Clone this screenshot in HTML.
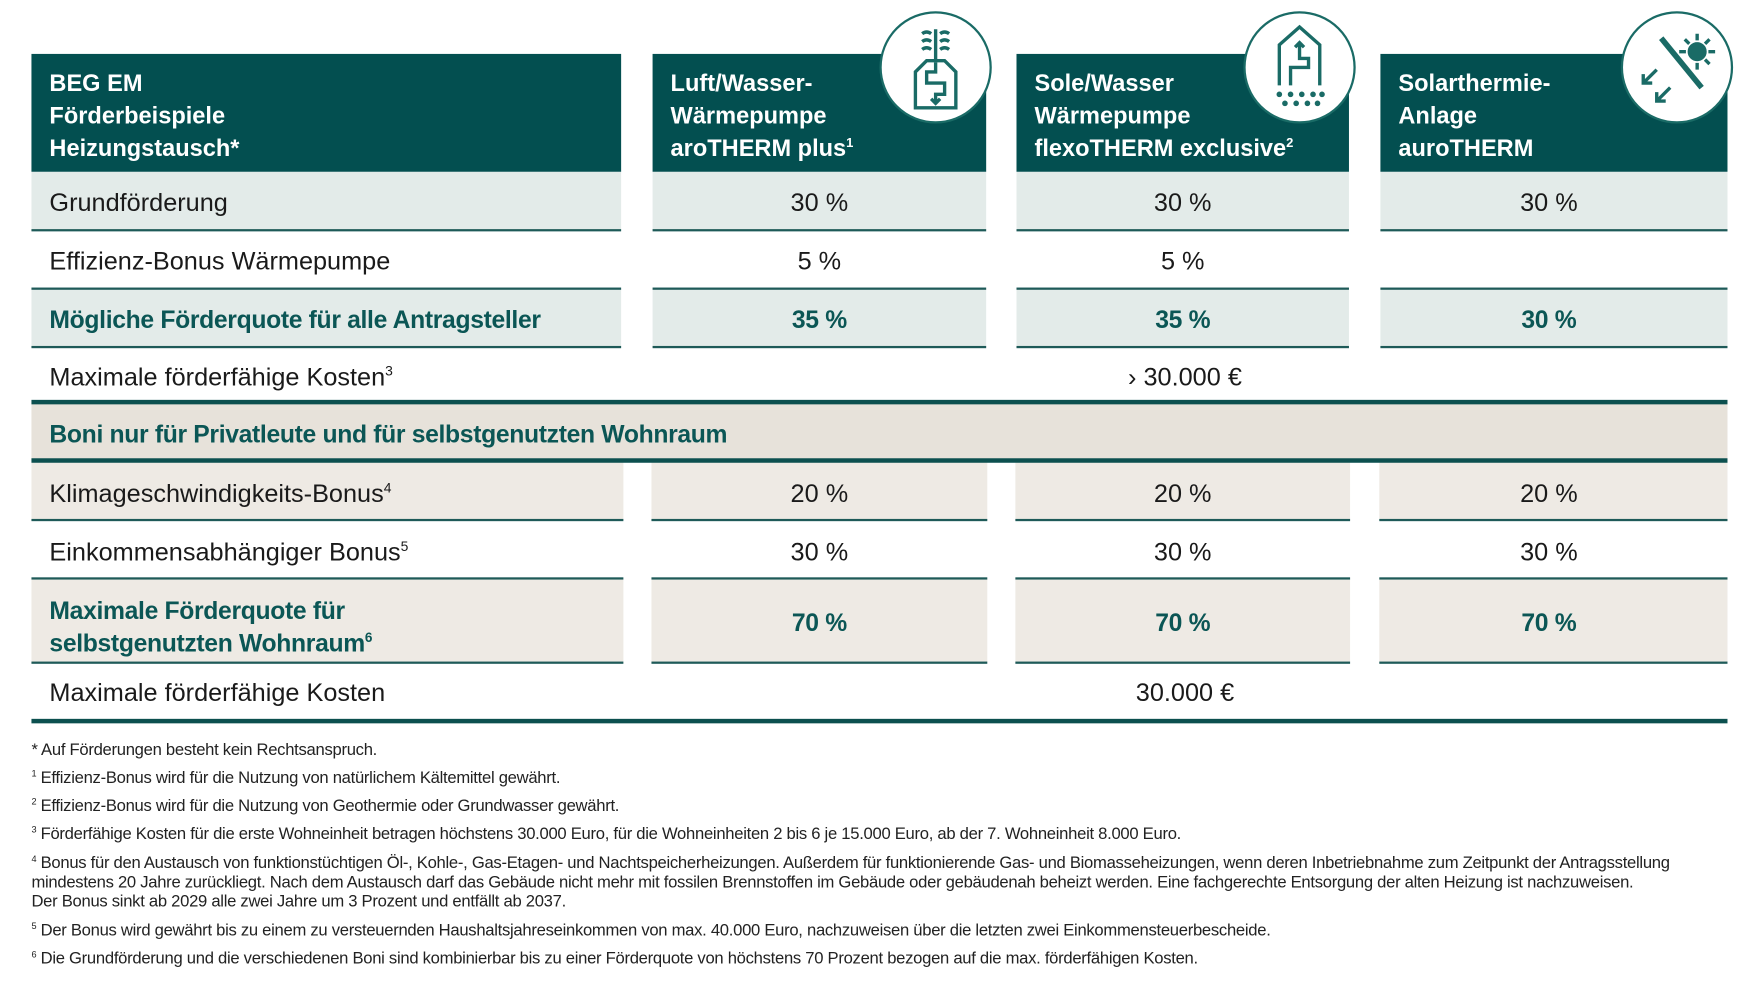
<!DOCTYPE html>
<html><head><meta charset="utf-8"><style>
html,body{margin:0;padding:0;background:#fff;width:1760px;height:990px;overflow:hidden}
#w{position:absolute;left:0;top:0;width:1560px;height:878px;transform:scale(1.1232);transform-origin:0 0;font-family:"Liberation Sans",sans-serif;color:#1a1a1a}
.a{position:absolute;box-sizing:border-box}
.hd{background:#034f50;color:#fff;font-weight:bold;font-size:21px;line-height:29px;padding:12px 0 0 16px}
.t{position:absolute;font-size:22.5px;white-space:nowrap;line-height:1}
.b{font-weight:bold;color:#0b5655;font-size:22px;letter-spacing:-0.3px}
.c{text-align:center}
.ln{position:absolute;height:2px;background:#1e5a58}
.fn{position:absolute;left:28px;font-size:14.8px;line-height:17px;white-space:nowrap;color:#222;letter-spacing:-0.25px}
sup{font-size:0.55em;vertical-align:0.7em;line-height:0}
.ic{position:absolute;width:100px;height:100px;border-radius:50%;background:#fff;border:2px solid #1a6b66;box-sizing:border-box}
</style></head><body><div id="w">
<div class="a hd" style="left:28px;top:48px;width:525px;height:105px">BEG EM<br>Förderbeispiele<br>Heizungstausch*</div>
<div class="a hd" style="left:581px;top:48px;width:297px;height:105px">Luft/Wasser-<br>Wärmepumpe<br>aroTHERM plus<sup>1</sup></div>
<div class="a hd" style="left:905px;top:48px;width:296px;height:105px">Sole/Wasser<br>Wärmepumpe<br>flexoTHERM exclusive<sup>2</sup></div>
<div class="a hd" style="left:1229px;top:48px;width:309px;height:105px">Solarthermie-<br>Anlage<br>auroTHERM</div>
<div class="ic" style="left:783px;top:10px"><svg width="96" height="96" viewBox="0 0 96 96" fill="none" stroke="#1a6b66" stroke-width="3"><path d="M36 18q4-3 8 0M36 25q4-3 8 0M36 32q4-3 8 0M52 18q4-3 8 0M52 25q4-3 8 0M52 32q4-3 8 0M48 14v30"/><path d="M30 84V52l10-10h16l10 10v32z"/><path d="M48 44v8h-8v10h16v10h-8v8M44 76l4 4 4-4"/></svg></div>
<div class="ic" style="left:1107px;top:10px"><svg width="96" height="96" viewBox="0 0 96 96" fill="none" stroke="#1a6b66" stroke-width="3"><path d="M30 64V28l18-16 18 16v36"/><path d="M40 64V48h16v-8h-8V26M44 30l4-4 4 4"/><g fill="#1a6b66" stroke="none"><circle cx="30" cy="72" r="2.5"/><circle cx="40" cy="72" r="2.5"/><circle cx="50" cy="72" r="2.5"/><circle cx="60" cy="72" r="2.5"/><circle cx="68" cy="72" r="2.5"/><circle cx="35" cy="80" r="2.5"/><circle cx="45" cy="80" r="2.5"/><circle cx="55" cy="80" r="2.5"/><circle cx="64" cy="80" r="2.5"/></g></svg></div>
<div class="ic" style="left:1443px;top:10px"><svg width="96" height="96" viewBox="0 0 96 96" fill="none" stroke="#1a6b66" stroke-width="3"><path d="M34 22l36 44" stroke-width="5"/><circle cx="66" cy="34" r="7" fill="#1a6b66"/><path d="M66 18v6M66 44v6M50 34h6M76 34h6M55 23l4 4M73 41l4 4M77 23l-4 4"/><path d="M30 50l-12 12M18 54v8h8M42 66l-12 12M30 70v8h8"/></svg></div>
<div class="a" style="left:28px;top:153px;width:525px;height:52px;background:#e3ebe9"></div>
<div class="a" style="left:581px;top:153px;width:297px;height:52px;background:#e3ebe9"></div>
<div class="a" style="left:905px;top:153px;width:296px;height:52px;background:#e3ebe9"></div>
<div class="a" style="left:1229px;top:153px;width:309px;height:52px;background:#e3ebe9"></div>
<div class="a" style="left:28px;top:257px;width:525px;height:52px;background:#e3ebe9"></div>
<div class="a" style="left:581px;top:257px;width:297px;height:52px;background:#e3ebe9"></div>
<div class="a" style="left:905px;top:257px;width:296px;height:52px;background:#e3ebe9"></div>
<div class="a" style="left:1229px;top:257px;width:309px;height:52px;background:#e3ebe9"></div>
<div class="a" style="left:28px;top:359px;width:1510px;height:51px;background:#e7e2da"></div>
<div class="a" style="left:28px;top:411px;width:527px;height:52px;background:#eeeae4"></div>
<div class="a" style="left:580px;top:411px;width:299px;height:52px;background:#eeeae4"></div>
<div class="a" style="left:904px;top:411px;width:298px;height:52px;background:#eeeae4"></div>
<div class="a" style="left:1228px;top:411px;width:310px;height:52px;background:#eeeae4"></div>
<div class="a" style="left:28px;top:515px;width:527px;height:75px;background:#eeeae4"></div>
<div class="a" style="left:580px;top:515px;width:299px;height:75px;background:#eeeae4"></div>
<div class="a" style="left:904px;top:515px;width:298px;height:75px;background:#eeeae4"></div>
<div class="a" style="left:1228px;top:515px;width:310px;height:75px;background:#eeeae4"></div>
<div class="ln" style="left:28px;top:204px;width:525px"></div><div class="ln" style="left:581px;top:204px;width:297px"></div><div class="ln" style="left:905px;top:204px;width:296px"></div><div class="ln" style="left:1229px;top:204px;width:309px"></div>
<div class="ln" style="left:28px;top:256px;width:525px"></div><div class="ln" style="left:581px;top:256px;width:297px"></div><div class="ln" style="left:905px;top:256px;width:296px"></div><div class="ln" style="left:1229px;top:256px;width:309px"></div>
<div class="ln" style="left:28px;top:308px;width:525px"></div><div class="ln" style="left:581px;top:308px;width:297px"></div><div class="ln" style="left:905px;top:308px;width:296px"></div><div class="ln" style="left:1229px;top:308px;width:309px"></div>
<div class="ln" style="left:28px;top:356px;width:1510px;height:4px;background:#0c504f"></div>
<div class="ln" style="left:28px;top:408px;width:1510px;height:4px;background:#0c504f"></div>
<div class="ln" style="left:28px;top:462px;width:527px"></div><div class="ln" style="left:580px;top:462px;width:299px"></div><div class="ln" style="left:904px;top:462px;width:298px"></div><div class="ln" style="left:1228px;top:462px;width:310px"></div>
<div class="ln" style="left:28px;top:514px;width:527px"></div><div class="ln" style="left:580px;top:514px;width:299px"></div><div class="ln" style="left:904px;top:514px;width:298px"></div><div class="ln" style="left:1228px;top:514px;width:310px"></div>
<div class="ln" style="left:28px;top:589px;width:527px"></div><div class="ln" style="left:580px;top:589px;width:299px"></div><div class="ln" style="left:904px;top:589px;width:298px"></div><div class="ln" style="left:1228px;top:589px;width:310px"></div>
<div class="ln" style="left:28px;top:640px;width:1510px;height:4px;background:#0c504f"></div>
<div class="t" style="left:44px;top:170px">Grundförderung</div>
<div class="t c" style="left:581px;width:297px;top:170px">30 %</div><div class="t c" style="left:905px;width:296px;top:170px">30 %</div><div class="t c" style="left:1229px;width:300px;top:170px">30 %</div>
<div class="t" style="left:44px;top:222px">Effizienz-Bonus Wärmepumpe</div>
<div class="t c" style="left:581px;width:297px;top:222px">5 %</div><div class="t c" style="left:905px;width:296px;top:222px">5 %</div>
<div class="t b" style="left:44px;top:274px">Mögliche Förderquote für alle Antragsteller</div>
<div class="t b c" style="left:581px;width:297px;top:274px">35 %</div><div class="t b c" style="left:905px;width:296px;top:274px">35 %</div><div class="t b c" style="left:1229px;width:300px;top:274px">30 %</div>
<div class="t" style="left:44px;top:325px">Maximale förderfähige Kosten<sup>3</sup></div>
<div class="t c" style="left:905px;width:300px;top:325px">› 30.000 €</div>
<div class="t b" style="left:44px;top:376px">Boni nur für Privatleute und für selbstgenutzten Wohnraum</div>
<div class="t" style="left:44px;top:429px">Klimageschwindigkeits-Bonus<sup>4</sup></div>
<div class="t c" style="left:581px;width:297px;top:429px">20 %</div><div class="t c" style="left:905px;width:296px;top:429px">20 %</div><div class="t c" style="left:1229px;width:300px;top:429px">20 %</div>
<div class="t" style="left:44px;top:481px">Einkommensabhängiger Bonus<sup>5</sup></div>
<div class="t c" style="left:581px;width:297px;top:481px">30 %</div><div class="t c" style="left:905px;width:296px;top:481px">30 %</div><div class="t c" style="left:1229px;width:300px;top:481px">30 %</div>
<div class="t b" style="left:44px;top:529px;line-height:29px">Maximale Förderquote für<br>selbstgenutzten Wohnraum<sup>6</sup></div>
<div class="t b c" style="left:581px;width:297px;top:544px">70 %</div><div class="t b c" style="left:905px;width:296px;top:544px">70 %</div><div class="t b c" style="left:1229px;width:300px;top:544px">70 %</div>
<div class="t" style="left:44px;top:606px">Maximale förderfähige Kosten</div>
<div class="t c" style="left:905px;width:300px;top:606px">30.000 €</div>
<div class="fn" style="top:660px">* Auf Förderungen besteht kein Rechtsanspruch.</div>
<div class="fn" style="top:685px"><sup>1</sup> Effizienz-Bonus wird für die Nutzung von natürlichem Kältemittel gewährt.</div>
<div class="fn" style="top:710px"><sup>2</sup> Effizienz-Bonus wird für die Nutzung von Geothermie oder Grundwasser gewährt.</div>
<div class="fn" style="top:735px"><sup>3</sup> Förderfähige Kosten für die erste Wohneinheit betragen höchstens 30.000 Euro, für die Wohneinheiten 2 bis 6 je 15.000 Euro, ab der 7. Wohneinheit 8.000 Euro.</div>
<div class="fn" style="top:761px"><sup>4</sup> Bonus für den Austausch von funktionstüchtigen Öl-, Kohle-, Gas-Etagen- und Nachtspeicherheizungen. Außerdem für funktionierende Gas- und Biomasseheizungen, wenn deren Inbetriebnahme zum Zeitpunkt der Antragsstellung<br>mindestens 20 Jahre zurückliegt. Nach dem Austausch darf das Gebäude nicht mehr mit fossilen Brennstoffen im Gebäude oder gebäudenah beheizt werden. Eine fachgerechte Entsorgung der alten Heizung ist nachzuweisen.<br>Der Bonus sinkt ab 2029 alle zwei Jahre um 3 Prozent und entfällt ab 2037.</div>
<div class="fn" style="top:821px"><sup>5</sup> Der Bonus wird gewährt bis zu einem zu versteuernden Haushaltsjahreseinkommen von max. 40.000 Euro, nachzuweisen über die letzten zwei Einkommensteuerbescheide.</div>
<div class="fn" style="top:846px"><sup>6</sup> Die Grundförderung und die verschiedenen Boni sind kombinierbar bis zu einer Förderquote von höchstens 70 Prozent bezogen auf die max. förderfähigen Kosten.</div>
</div></body></html>
